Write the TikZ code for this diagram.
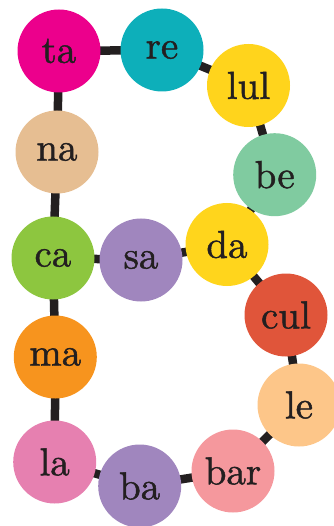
\documentclass[tikz,border=0pt]{standalone}
\usepackage{fontspec}
\newfontfamily\bubfont{lmroman10-regular}[Extension=.otf,FakeBold=1.2]
\begin{document}
\begin{tikzpicture}[x=1pt,y=-1pt,
  bub/.style={circle,minimum size=83pt,inner sep=0pt,font=\bubfont\fontsize{39}{42}\selectfont,text=txt},
  link/.style={line width=8.5pt,draw=edge}]
\definecolor{edge}{HTML}{231F20}
\definecolor{txt}{HTML}{231F20}
\definecolor{cta}{HTML}{EC008C}
\definecolor{cre}{HTML}{0DAFBA}
\definecolor{clul}{HTML}{FFD41C}
\definecolor{cbe}{HTML}{80CBA0}
\definecolor{cna}{HTML}{E6BE92}
\definecolor{cca}{HTML}{8DC63F}
\definecolor{csa}{HTML}{A086BE}
\definecolor{cda}{HTML}{FFD51C}
\definecolor{ccul}{HTML}{E0553A}
\definecolor{cma}{HTML}{F7941E}
\definecolor{cle}{HTML}{FDC689}
\definecolor{cla}{HTML}{E680B0}
\definecolor{cba}{HTML}{A086BE}
\definecolor{cbar}{HTML}{F5989D}
\useasboundingbox (0,0) rectangle (333,526);
\coordinate (pta) at (59,51);
\coordinate (pre) at (162,50);
\coordinate (plul) at (248.5,85.5);
\coordinate (pbe) at (274.7,174.7);
\coordinate (pna) at (57,152);
\coordinate (pca) at (53,258);
\coordinate (psa) at (141,260);
\coordinate (pda) at (227,244.5);
\coordinate (pcul) at (286,315);
\coordinate (pma) at (55.3,357);
\coordinate (ple) at (299,405);
\coordinate (pla) at (54.7,462);
\coordinate (pba) at (139.7,486);
\coordinate (pbar) at (233,471);
\draw[link] (pta) -- (pre) -- (plul) -- (pbe) -- (pda) -- (psa) -- (pca);
\draw[link] (pta) -- (pna) -- (pca) -- (pma) -- (pla) -- (pba) -- (pbar) -- (ple) -- (pcul) -- (pda);
\node[bub,fill=cta] (ta) at (pta) {ta};
\node[bub,fill=cre] (re) at (pre) {re};
\node[bub,fill=clul] (lul) at (plul) {lul};
\node[bub,fill=cbe] (be) at (pbe) {be};
\node[bub,fill=cna] (na) at (pna) {na};
\node[bub,fill=cca] (ca) at (pca) {ca};
\node[bub,fill=csa] (sa) at (psa) {sa};
\node[bub,fill=cda] (da) at (pda) {da};
\node[bub,fill=ccul] (cul) at (pcul) {cul};
\node[bub,fill=cma] (ma) at (pma) {ma};
\node[bub,fill=cle] (le) at (ple) {le};
\node[bub,fill=cla] (la) at (pla) {la};
\node[bub,fill=cba] (ba) at (pba) {ba};
\node[bub,fill=cbar] (bar) at (pbar) {bar};
\end{tikzpicture}
\end{document}
